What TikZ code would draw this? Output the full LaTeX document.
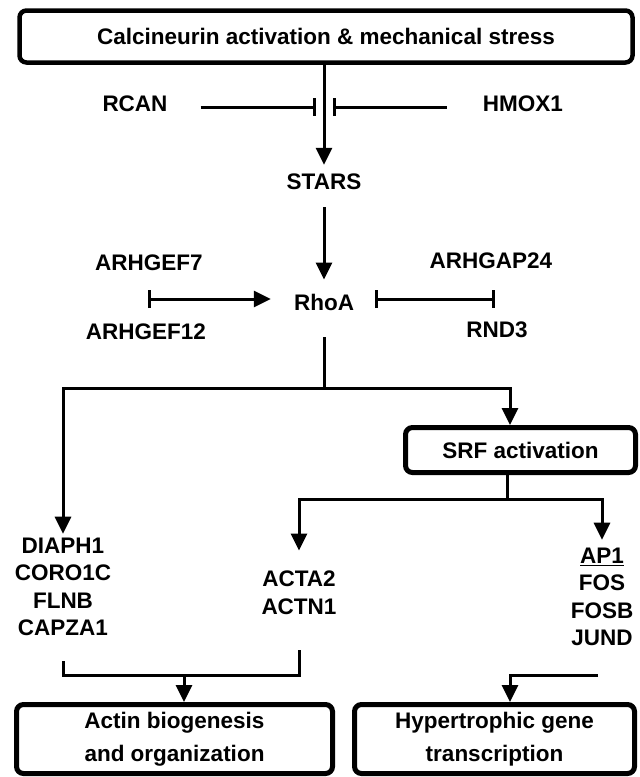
\documentclass[tikz,border=0pt]{standalone}
\usepackage{fontspec}
\setmainfont{Liberation Sans}
\usetikzlibrary{arrows.meta}

\tikzset{
  lbl/.style={font=\fontsize{22.5}{27.5}\selectfont\bfseries, inner sep=4pt, align=center},
  boxed/.style={lbl, draw, line width=5pt, rounded corners=7pt, font=\fontsize{22.5}{33}\selectfont\bfseries},
  conn/.style={line width=3pt},
  act/.style={conn, -{Triangle[length=17pt,width=16pt]}},
  inh/.style={conn, -{Bar[width=18pt]}},
}

\begin{document}
\begin{tikzpicture}[x=1pt,y=-1pt]
\useasboundingbox (0,0) rectangle (640,777);

% boxes
\node (top) at (326,36.5) [boxed, line width=4.5pt, minimum width=613pt, minimum height=52pt] {Calcineurin activation \& mechanical stress};
\node (srf) at (520.5,450) [boxed, minimum width=230pt, minimum height=45pt] {SRF activation};
\node (actin) at (174.5,739) [boxed, minimum width=316pt, minimum height=69pt] {Actin biogenesis\\and organization};
\node (hyper) at (494.5,739) [boxed, minimum width=280pt, minimum height=69pt] {Hypertrophic gene\\transcription};

% labels
\node (rcan) at (135,104) [lbl] {RCAN};
\node (hmox) at (523,104) [lbl] {HMOX1};
\node (stars) at (324,182) [lbl] {STARS};
\node (rhoa) at (324,302) [lbl] {RhoA};
\node (gef7) at (149,263) [lbl] {ARHGEF7};
\node (gef12) at (146,332) [lbl] {ARHGEF12};
\node (gap24) at (491,261) [lbl] {ARHGAP24};
\node (rnd3) at (497,330) [lbl] {RND3};
\node (diaph) at (63,587) [lbl] {DIAPH1\\CORO1C\\FLNB\\CAPZA1};
\node (acta) at (299,592.5) [lbl] {ACTA2\\ACTN1};
\node (ap1) at (602,597) [lbl] {\underline{AP1}\\FOS\\FOSB\\JUND};

% free ends and branch points
\coordinate (rcanbar) at (316,107);
\coordinate (hmoxbar) at (333,107);
\coordinate (gef) at (148,299);
\coordinate (gap) at (495,299);
\coordinate (rhosplit) at (324,388);
\coordinate (srfin) at (510,388);
\coordinate (srfsplit) at (507,499);
\coordinate (actinjoin) at (184,675);
\coordinate (hyperjoin) at (510,675);
\coordinate (ap1out) at (598,675);

% top part
\draw[act, shorten >=5pt] (top.south -| stars) -- (stars.north);
\draw[inh, shorten <=29pt] (rcan.east |- rcanbar) -- (rcanbar);
\draw[inh, shorten <=32pt] (hmox.west |- hmoxbar) -- (hmoxbar);
\draw[act, shorten <=13pt, shorten >=10pt] (stars.south) -- (rhoa.north);
\draw[conn, {Bar[width=18pt]}-{Triangle[length=17pt,width=16pt]}, shorten >=19pt] (gef) -- (rhoa.west |- gef);
\draw[conn, {Bar[width=18pt]}-{Bar[width=18pt]}, shorten <=17pt] (rhoa.east |- gap) -- (gap);

% RhoA branches
\draw[conn, shorten <=23pt] (rhoa.south) -- (rhosplit);
\draw[act] (rhosplit) -| (diaph.north);
\draw[act] (rhosplit) -- (srfin) -- (srfin |- srf.north);

% SRF branches
\draw[conn] (srfsplit |- srf.south) -- (srfsplit);
\draw[act, shorten >=16pt] (srfsplit) -| (acta.north);
\draw[act, shorten >=4pt] (srfsplit) -| (ap1.north);

% outputs
\draw[conn] ([yshift=-21pt]diaph.south) |- (actinjoin) -| ([yshift=-32pt]acta.south);
\draw[act] (actinjoin) -- (actinjoin |- actin.north);
\draw[act] (ap1out) -- (hyperjoin) -- (hyperjoin |- hyper.north);
\end{tikzpicture}
\end{document}
